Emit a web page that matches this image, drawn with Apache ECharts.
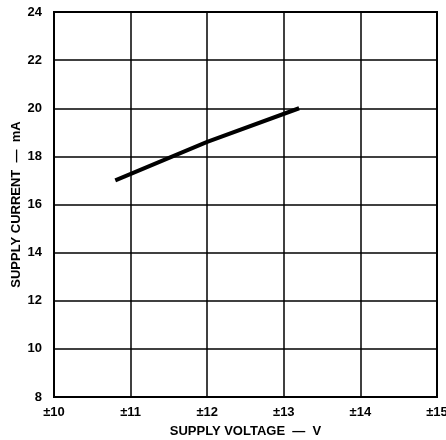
<!DOCTYPE html>
<html>
<head>
<meta charset="utf-8">
<script src="https://cdn.jsdelivr.net/npm/echarts@6/dist/echarts.min.js"></script>
<style>
  html, body { margin: 0; padding: 0; background: #fff; }
  #chart { width: 446px; height: 440px; }
</style>
</head>
<body>
<div id="chart"></div>
<script>
// supply voltage (±V) vs supply current (mA)
var voltage = [10.8, 12.0, 13.2];
var current = [17.0, 18.6, 20.0];
var xTicks = ["±10", "±11", "±12", "±13", "±14", "±15"];

var font = "Liberation Sans, Arial, sans-serif";
var chart = echarts.init(document.getElementById("chart"));

var option = {
  animation: false,
  backgroundColor: "#fff",
  grid: {
    left: 54,
    top: 12,
    width: 383,
    height: 385,
    containLabel: false,
    outerBoundsMode: "none",
    show: true,
    borderColor: "#000",
    borderWidth: 2
  },
  xAxis: {
    type: "value",
    min: 10,
    max: 15,
    interval: 1,
    name: "SUPPLY VOLTAGE  —  V",
    nameLocation: "middle",
    nameGap: 28,
    nameTextStyle: { color: "#000", fontFamily: font, fontWeight: "bold", fontSize: 13 },
    axisLine: { show: false },
    axisTick: { show: false },
    splitLine: { lineStyle: { color: "#000", width: 1.5 } },
    axisLabel: {
      color: "#000",
      fontFamily: font,
      fontWeight: "bold",
      fontSize: 13,
      margin: 9,
      formatter: function (v) { return xTicks[Math.round(v - 10)]; }
    }
  },
  yAxis: {
    type: "value",
    min: 8,
    max: 24,
    interval: 2,
    name: "SUPPLY CURRENT  —  mA",
    nameLocation: "middle",
    nameGap: 31,
    nameMoveOverlap: false,
    nameTextStyle: { color: "#000", fontFamily: font, fontWeight: "bold", fontSize: 13 },
    axisLine: { show: false },
    axisTick: { show: false },
    splitLine: { lineStyle: { color: "#000", width: 1.5 } },
    axisLabel: {
      color: "#000",
      fontFamily: font,
      fontWeight: "bold",
      fontSize: 13,
      margin: 12
    }
  },
  series: [
    {
      type: "line",
      data: voltage.map(function (v, i) { return [v, current[i]]; }),
      showSymbol: false,
      lineStyle: { color: "#000", width: 4 }
    }
  ]
};
chart.setOption(option);
</script>
</body>
</html>
